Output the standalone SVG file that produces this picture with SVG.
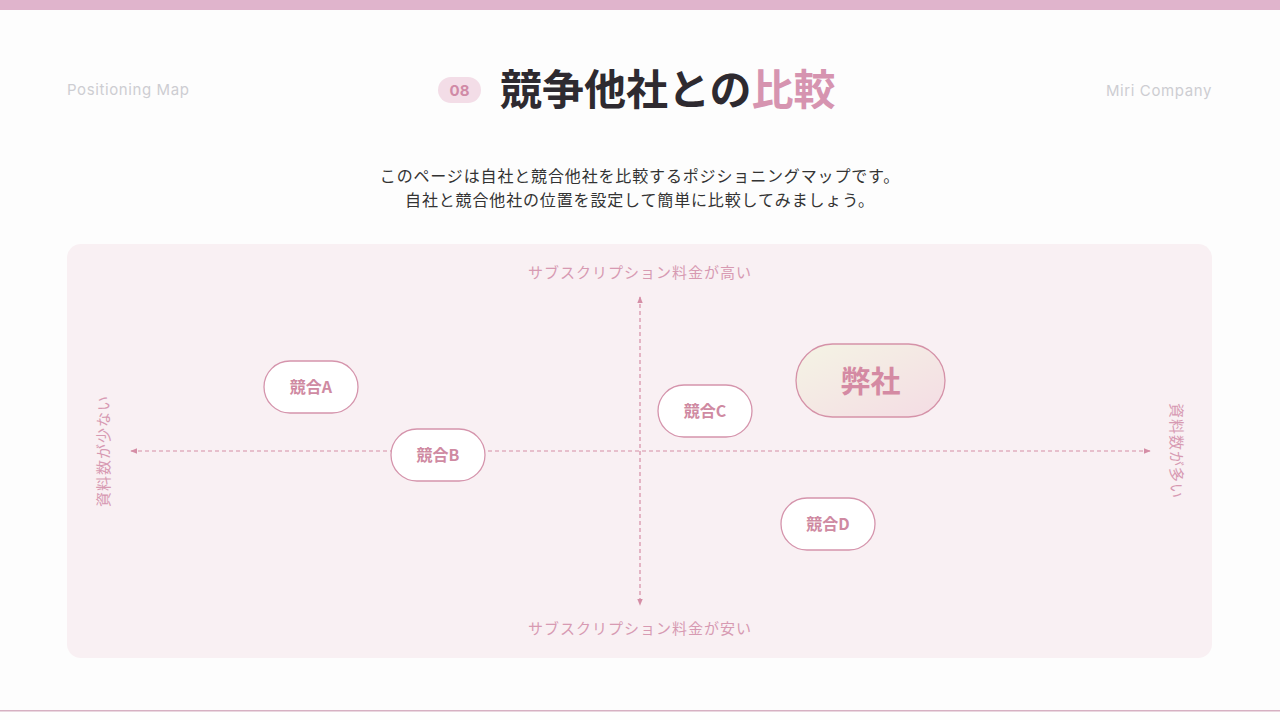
<svg xmlns="http://www.w3.org/2000/svg" width="1280" height="720" viewBox="0 0 1280 720">
<defs>
<style>
.jp{font-family:"Noto Sans CJK JP","Noto Sans",sans-serif}
.en{font-family:Inter,"Noto Sans",sans-serif;letter-spacing:0.6px}
.axis{stroke:#d58ea6;stroke-width:1.2;stroke-dasharray:4 3;fill:none}
.pill{fill:#ffffff;stroke:#d594ac;stroke-width:1.3}
.nlabel{font-family:"Noto Sans CJK JP",sans-serif;font-size:16px;font-weight:700;fill:#cf8aa2;text-anchor:middle}
.axlabel{font-family:"Noto Sans CJK JP",sans-serif;font-size:15px;letter-spacing:1px;fill:#d79ab2;text-anchor:middle}
.sub{font-family:"Noto Sans CJK JP",sans-serif;font-size:16px;letter-spacing:0.85px;fill:#333333;text-anchor:middle}
</style>
<marker id="arr" viewBox="0 0 10 10" refX="9" refY="5" markerWidth="6" markerHeight="6" orient="auto-start-reverse">
<path d="M0,1 L10,5 L0,9 Z" fill="#d58ea6"/>
</marker>
<linearGradient id="gOur" x1="0" y1="0" x2="1" y2="1">
<stop offset="0" stop-color="#f4f4e4"/>
<stop offset="1" stop-color="#f4dce4"/>
</linearGradient>
</defs>
<rect width="1280" height="720" fill="#fdfdfd"/>
<rect x="0" y="0" width="1280" height="10" fill="#e0b4cc"/>
<rect x="0" y="710" width="1280" height="1.5" fill="#d6b0c2"/>

<g id="header">
<text x="67" y="95" class="en" font-size="15" fill="#cdcdd2">Positioning Map</text>
<text x="1212" y="96" class="en" font-size="15" fill="#cdcdd2" text-anchor="end">Miri Company</text>
<rect x="438" y="77" width="43" height="26" rx="13" fill="#f3dde7"/>
<text x="459.5" y="96" font-family="Inter,sans-serif" font-size="15" font-weight="700" fill="#d08aa6" text-anchor="middle">08</text>
<text x="500" y="105" class="jp" font-size="42" font-weight="700" fill="#2e2a30">競争他社との<tspan fill="#d694b0">比較</tspan></text>
</g>

<g id="subtitle">
<text x="640" y="182" class="sub">このページは自社と競合他社を比較するポジショニングマップです。</text>
<text x="640" y="206" class="sub">自社と競合他社の位置を設定して簡単に比較してみましょう。</text>
</g>

<rect id="panel" x="67" y="244" width="1145" height="414" rx="14" fill="#f9f0f3"/>

<g id="connectors">
<line class="axis" x1="131" y1="451" x2="1150" y2="451" marker-start="url(#arr)" marker-end="url(#arr)"/>
<line class="axis" x1="640" y1="297" x2="640" y2="605" marker-start="url(#arr)" marker-end="url(#arr)"/>
</g>

<g id="axis-labels">
<text x="640" y="278" class="axlabel">サブスクリプション料金が高い</text>
<text x="640" y="634" class="axlabel">サブスクリプション料金が安い</text>
<text class="axlabel" transform="translate(109,451) rotate(-90)">資料数が少ない</text>
<text class="axlabel" transform="translate(1171,451) rotate(90)">資料数が多い</text>
</g>

<g id="node-a">
<rect class="pill" x="264" y="361" width="94" height="52" rx="26"/>
<text x="311" y="392.5" class="nlabel">競合A</text>
</g>
<g id="node-b">
<rect class="pill" x="391" y="429" width="94" height="52" rx="26"/>
<text x="438" y="460.5" class="nlabel">競合B</text>
</g>
<g id="node-c">
<rect class="pill" x="658" y="385" width="94" height="52" rx="26"/>
<text x="705" y="416.5" class="nlabel">競合C</text>
</g>
<g id="node-d">
<rect class="pill" x="781" y="498" width="94" height="52" rx="26"/>
<text x="828" y="529.5" class="nlabel">競合D</text>
</g>
<g id="node-ours">
<rect x="796" y="344" width="149" height="73" rx="36.5" fill="url(#gOur)" stroke="#d592a8" stroke-width="1.3"/>
<text x="870.5" y="391.5" class="jp" font-size="30" font-weight="700" fill="#d48aa3" text-anchor="middle">弊社</text>
</g>
</svg>
